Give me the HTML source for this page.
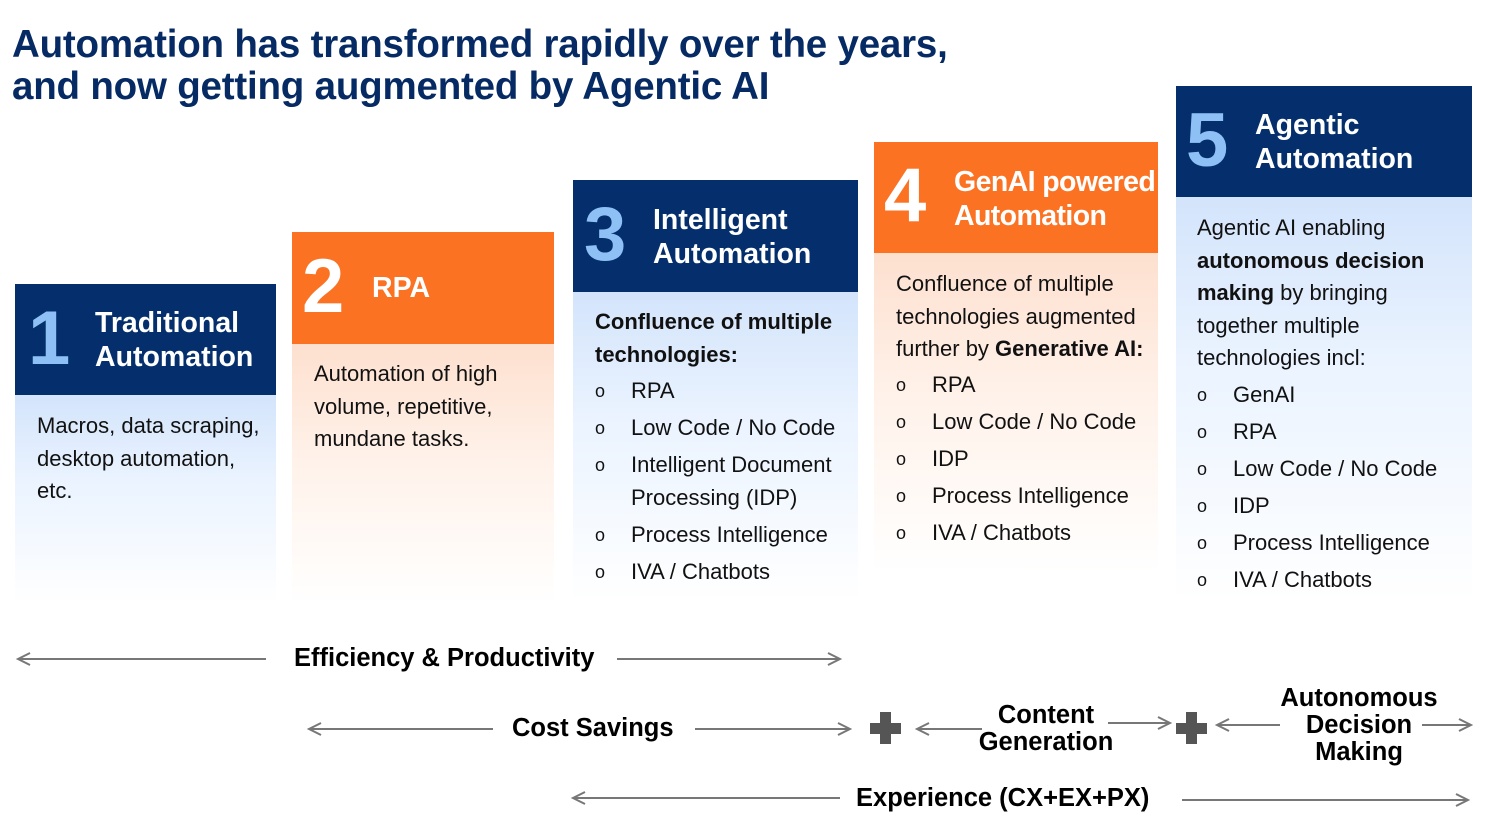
<!DOCTYPE html>
<html><head><meta charset="utf-8"><style>
body{margin:0;width:1504px;height:827px;background:#fff;position:relative;overflow:hidden;font-family:"Liberation Sans",Arial,sans-serif;color:#0a1633}
.a{position:absolute}
h1{position:absolute;left:12px;top:24px;margin:0;font-size:38.5px;line-height:42px;color:#062a63;font-weight:bold;letter-spacing:-0.2px}
.num{position:absolute;font-size:76px;font-weight:bold;line-height:72px}
.ttl{position:absolute;font-size:28.5px;line-height:34px;font-weight:bold;color:#fff}
.bd{position:absolute;font-size:22px;line-height:32.5px;color:#111}
.navy{background:#042f6c}.org{background:#fb7223}
.bb{background:linear-gradient(#d3e4fb,#eaf3ff 40%,#fff 100%)}
.ob{background:linear-gradient(#fde0cf,#fff2ea 45%,#fff 100%)}
ul{list-style:none;margin:0;padding:0}
li{position:relative;padding-left:36px;line-height:32.5px;margin-bottom:4.5px}
li:before{content:"o";position:absolute;left:0;top:0;font-size:18px}
.lb{position:absolute;font-weight:bold;font-size:25.5px;color:#000;text-align:center;line-height:27px}
</style></head><body>
<h1>Automation has transformed rapidly over the years,<br>and now getting augmented by Agentic AI</h1>

<div class="a navy" style="left:15px;top:284px;width:261px;height:111px"></div>
<div class="a bb" style="left:15px;top:395px;width:261px;height:210px"></div>
<div class="num" style="left:28px;top:303px;color:#8fc0f5">1</div>
<div class="ttl" style="left:95px;top:306px">Traditional<br>Automation</div>
<div class="bd" style="left:37px;top:410px">Macros, data scraping,<br>desktop automation,<br>etc.</div>

<div class="a org" style="left:292px;top:232px;width:262px;height:112px"></div>
<div class="a ob" style="left:292px;top:344px;width:262px;height:261px"></div>
<div class="num" style="left:302px;top:251px;color:#fff">2</div>
<div class="ttl" style="left:372px;top:271px">RPA</div>
<div class="bd" style="left:314px;top:358px">Automation of high<br>volume, repetitive,<br>mundane tasks.</div>

<div class="a navy" style="left:573px;top:180px;width:285px;height:112px"></div>
<div class="a bb" style="left:573px;top:292px;width:285px;height:310px"></div>
<div class="num" style="left:584px;top:199px;color:#8fc0f5">3</div>
<div class="ttl" style="left:653px;top:203px">Intelligent<br>Automation</div>
<div class="bd" style="left:595px;top:306px;width:255px"><b>Confluence of multiple<br>technologies:</b>
<ul style="margin-top:4px"><li>RPA</li><li>Low Code / No Code</li><li>Intelligent Document Processing (IDP)</li><li>Process Intelligence</li><li>IVA / Chatbots</li></ul></div>

<div class="a org" style="left:874px;top:142px;width:284px;height:111px"></div>
<div class="a ob" style="left:874px;top:253px;width:284px;height:320px"></div>
<div class="num" style="left:884px;top:160px;color:#fff">4</div>
<div class="ttl" style="left:954px;top:165px;letter-spacing:-0.6px">GenAI powered<br>Automation</div>
<div class="bd" style="left:896px;top:268px">Confluence of multiple<br>technologies augmented<br>further by <b>Generative AI:</b>
<ul style="margin-top:3px"><li>RPA</li><li>Low Code / No Code</li><li>IDP</li><li>Process Intelligence</li><li>IVA / Chatbots</li></ul></div>

<div class="a navy" style="left:1176px;top:86px;width:296px;height:111px"></div>
<div class="a bb" style="left:1176px;top:197px;width:296px;height:405px"></div>
<div class="num" style="left:1186px;top:105px;color:#8fc0f5">5</div>
<div class="ttl" style="left:1255px;top:108px">Agentic<br>Automation</div>
<div class="bd" style="left:1197px;top:212px">Agentic AI enabling<br><b>autonomous decision<br>making</b> by bringing<br>together multiple<br>technologies incl:
<ul style="margin-top:4px"><li>GenAI</li><li>RPA</li><li>Low Code / No Code</li><li>IDP</li><li>Process Intelligence</li><li>IVA / Chatbots</li></ul></div>

<svg class="a" style="left:0;top:0" width="1504" height="827">
<g stroke="#777" stroke-width="2" fill="none">
<line x1="18" y1="659" x2="266" y2="659"/><polyline points="30,653 18,659 30,665"/>
<line x1="617" y1="659" x2="840" y2="659"/><polyline points="828,653 840,659 828,665"/>
<line x1="309" y1="729" x2="493" y2="729"/><polyline points="321,723 309,729 321,735"/>
<line x1="695" y1="729" x2="850" y2="729"/><polyline points="838,723 850,729 838,735"/>
<line x1="917" y1="729" x2="982" y2="729"/><polyline points="929,723 917,729 929,735"/>
<line x1="1108" y1="723" x2="1170" y2="723"/><polyline points="1158,717 1170,723 1158,729"/>
<line x1="1217" y1="725" x2="1280" y2="725"/><polyline points="1229,719 1217,725 1229,731"/>
<line x1="1422" y1="725" x2="1471" y2="725"/><polyline points="1459,719 1471,725 1459,731"/>
<line x1="573" y1="798" x2="840" y2="798"/><polyline points="585,792 573,798 585,804"/>
<line x1="1182" y1="800" x2="1468" y2="800"/><polyline points="1456,794 1468,800 1456,806"/>
</g>
<g fill="#555"><rect x="880" y="712" width="11" height="32"/><rect x="870" y="723" width="31" height="11"/>
<rect x="1186" y="712" width="11" height="32"/><rect x="1176" y="723" width="31" height="11"/></g>
</svg>
<div class="lb" style="left:294px;top:645px">Efficiency &amp; Productivity</div>
<div class="lb" style="left:512px;top:715px">Cost Savings</div>
<div class="lb" style="left:976px;top:702px;width:140px">Content<br>Generation</div>
<div class="lb" style="left:1272px;top:685px;width:174px">Autonomous<br>Decision<br>Making</div>
<div class="lb" style="left:856px;top:785px">Experience (CX+EX+PX)</div>
</body></html>
